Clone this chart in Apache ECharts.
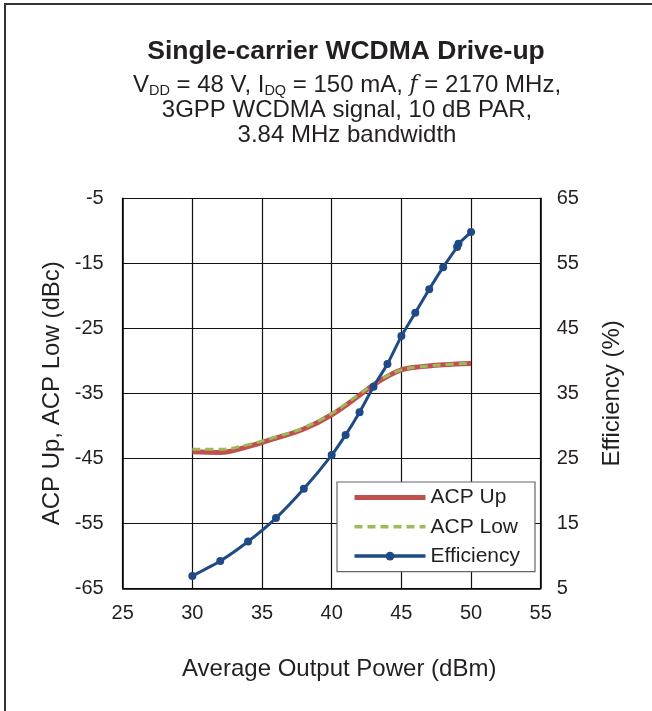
<!DOCTYPE html>
<html>
<head>
<meta charset="utf-8">
<script src="https://cdn.jsdelivr.net/npm/echarts@6/dist/echarts.min.js"></script>
<style>
html,body{margin:0;padding:0;background:#fff;}
#c{width:652px;height:711px;}
</style>
</head>
<body>
<div id="c"></div>
<script>
const powerAcp = [30, 32, 34, 36, 38, 40, 42, 43, 44, 45, 46, 48, 50];
const acpUp    = [-44.0, -44.1, -43.2, -41.9, -40.5, -38.3, -35.3, -33.7, -32.4, -31.4, -31.0, -30.6, -30.4];
const acpLow   = [-43.6, -43.6, -42.9, -41.7, -40.3, -38.1, -35.1, -33.6, -32.3, -31.4, -31.0, -30.6, -30.4];
const powerEff = [30, 32, 34, 36, 38, 40, 41, 42, 43, 44, 45, 46, 47, 48, 49, 49.1, 50];
const efficiency = [6.9, 9.2, 12.2, 15.8, 20.3, 25.5, 28.6, 32.1, 36.0, 39.5, 43.8, 47.4, 51.0, 54.4, 57.5, 58.0, 59.8];
const xTicks = [25, 55, 5];
const leftTicks = [-65, -5, 10];
const rightTicks = [5, 65, 10];

const pair = (xs, ys) => xs.map((x, i) => [x, ys[i]]);
const font = '"Liberation Sans", Arial, sans-serif';
const ink = '#231f20';
const chart = echarts.init(document.getElementById('c'), null, {renderer: 'canvas'});
chart.setOption({
  backgroundColor: '#fff',
  animation: false,
  textStyle: {fontFamily: font, color: ink},
  graphic: [{
    type: 'rect', silent: true,
    shape: {x: 5, y: 4, width: 700, height: 760},
    style: {fill: 'none', stroke: '#333', lineWidth: 2}
  }, {
    type: 'text', silent: true, x: 346, y: 52,
    style: {
      text: 'Single-carrier WCDMA Drive-up',
      fontFamily: font, fontSize: 26.5, fontWeight: 'bold', fill: ink,
      align: 'center', verticalAlign: 'middle'
    }
  }, {
    type: 'text', silent: true, x: 347, y: 73,
    style: {
      text: '{n|V}{s|DD}{n| = 48 V, I}{s|DQ}{n| = 150 mA, }{i|f}{n| = 2170 MHz,}\n{n|3GPP WCDMA signal, 10 dB PAR,}\n{n|3.84 MHz bandwidth}',
      fontFamily: font, fontSize: 24, fill: ink, lineHeight: 25,
      align: 'center', verticalAlign: 'top',
      rich: {
        n: {fontSize: 24, fontFamily: font, fill: ink, lineHeight: 25},
        s: {fontSize: 14.5, fontFamily: font, fill: ink, lineHeight: 25, padding: [10, 0, 0, 0]},
        i: {fontSize: 22, fontFamily: '"DejaVu Serif", "Liberation Serif", serif', fontStyle: 'italic', fill: ink, lineHeight: 25}
      }
    }
  }],
  grid: {left: 122.7, right: 111.3, top: 198.3, bottom: 122.7, containLabel: false},
  legend: {
    orient: 'vertical',
    left: 337, top: 482,
    padding: [5, 15, 5, 15],
    itemWidth: 71, itemHeight: 11, itemGap: 8.3,
    backgroundColor: '#fff',
    borderColor: '#666', borderWidth: 1.2,
    textStyle: {fontSize: 21, fontFamily: font, color: ink, lineHeight: 21},
    data: [
      {name: 'ACP Up', itemStyle: {opacity: 0}, lineStyle: {width: 5, color: '#c0504d'}},
      {name: 'ACP Low', itemStyle: {opacity: 0}, lineStyle: {width: 3.5, color: '#9bbb59', type: [8, 5]}},
      {name: 'Efficiency', lineStyle: {width: 3.5, color: '#1f4a85'}}
    ]
  },
  xAxis: {
    type: 'value', min: xTicks[0], max: xTicks[1], interval: xTicks[2],
    name: 'Average Output Power (dBm)', nameLocation: 'middle', nameGap: 69,
    nameTextStyle: {fontSize: 24, fontFamily: font, color: ink, padding: [0, 0, 0, 15]},
    axisLine: {show: true, lineStyle: {color: '#000', width: 1.5}},
    axisTick: {show: false},
    axisLabel: {fontSize: 20, color: ink, margin: 15, fontFamily: font},
    splitLine: {show: true, lineStyle: {color: '#111', width: 1.2}}
  },
  yAxis: [{
    type: 'value', min: leftTicks[0], max: leftTicks[1], interval: leftTicks[2],
    name: 'ACP Up, ACP Low (dBc)', nameLocation: 'middle', nameGap: 57,
    nameTextStyle: {fontSize: 24, fontFamily: font, color: ink},
    axisLine: {show: true, lineStyle: {color: '#000', width: 1.5}},
    axisTick: {show: false},
    axisLabel: {fontSize: 20, color: ink, margin: 19, fontFamily: font},
    splitLine: {show: true, lineStyle: {color: '#111', width: 1.2}}
  }, {
    type: 'value', min: rightTicks[0], max: rightTicks[1], interval: rightTicks[2],
    name: 'Efficiency (%)', nameLocation: 'middle', nameGap: 60,
    nameTextStyle: {fontSize: 24, fontFamily: font, color: ink},
    axisLine: {show: true, lineStyle: {color: '#000', width: 1.5}},
    axisTick: {show: false},
    axisLabel: {fontSize: 20, color: ink, margin: 16, fontFamily: font},
    splitLine: {show: false}
  }],
  series: [{
    name: 'ACP Up', type: 'line', yAxisIndex: 0,
    data: pair(powerAcp, acpUp), smooth: 0.4, symbol: 'none',
    itemStyle: {color: '#c0504d'},
    lineStyle: {color: '#c0504d', width: 5}
  }, {
    name: 'ACP Low', type: 'line', yAxisIndex: 0,
    data: pair(powerAcp, acpLow), smooth: 0.4, symbol: 'none',
    itemStyle: {color: '#9bbb59'},
    lineStyle: {color: '#9bbb59', width: 3, type: [8, 5]}
  }, {
    name: 'Efficiency', type: 'line', yAxisIndex: 1,
    data: pair(powerEff, efficiency), smooth: 0.2,
    symbol: 'circle', symbolSize: 8,
    itemStyle: {color: '#1f4a85'},
    lineStyle: {color: '#1f4a85', width: 3}
  }]
});
</script>
</body>
</html>
